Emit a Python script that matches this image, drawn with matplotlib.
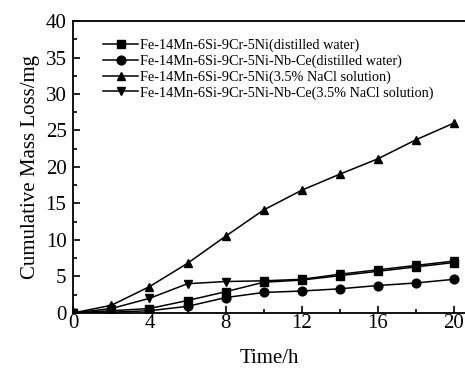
# Cumulative mass loss vs time for the Fe-Mn-Si-Cr-Ni alloys.
import matplotlib
matplotlib.use("Agg")
import matplotlib.pyplot as plt
from matplotlib.ticker import MultipleLocator

plt.rcParams['font.family'] = ['Liberation Serif', 'DejaVu Serif']

time_h = [0, 2, 4, 6, 8, 10, 12, 14, 16, 18, 20]

ni_water = [0, 0.3, 0.6, 1.7, 2.9, 4.2, 4.5, 5.1, 5.7, 6.3, 6.9]
nbce_water = [0, 0.1, 0.3, 0.9, 2.1, 2.8, 3.0, 3.3, 3.75, 4.1, 4.6]
ni_nacl = [0, 1.05, 3.6, 6.8, 10.5, 14.1, 16.8, 19.0, 21.1, 23.7, 26.0]
nbce_nacl = [0, 0.6, 2.0, 4.0, 4.3, 4.4, 4.6, 5.3, 5.9, 6.5, 7.1]

labels = [
    'Fe-14Mn-6Si-9Cr-5Ni(distilled water)',
    'Fe-14Mn-6Si-9Cr-5Ni-Nb-Ce(distilled water)',
    'Fe-14Mn-6Si-9Cr-5Ni(3.5% NaCl solution)',
    'Fe-14Mn-6Si-9Cr-5Ni-Nb-Ce(3.5% NaCl solution)',
]

fig = plt.figure(figsize=(4.65, 3.69), dpi=100)
ax = fig.add_axes([0.158, 0.152, 0.842, 0.791])

series = [ni_water, nbce_water, ni_nacl, nbce_nacl]
markers = ['s', 'o', '^', 'v']
for vals, m, lab in zip(series, markers, labels):
    ax.plot(time_h, vals, color='black', marker=m, markersize=6.3, linewidth=1.1, label=lab)

ax.set_xlim(0, 20.6)
ax.set_ylim(0, 40)
ax.xaxis.set_major_locator(MultipleLocator(4))
ax.xaxis.set_minor_locator(MultipleLocator(2))
ax.yaxis.set_major_locator(MultipleLocator(5))
ax.yaxis.set_minor_locator(MultipleLocator(2.5))
ax.tick_params(which='both', direction='in', labelsize=15, width=1.2)
ax.tick_params(which='major', length=5)
ax.tick_params(which='minor', length=3)
ax.tick_params(axis='y', pad=5)
ax.tick_params(axis='x', pad=1)
ax.spines['right'].set_visible(False)
for s in ['left', 'bottom', 'top']:
    ax.spines[s].set_linewidth(1.3)

ax.set_xlabel('Time/h', fontsize=15, labelpad=11)
ax.set_ylabel('Cumulative Mass Loss/mg', fontsize=15, labelpad=4)

ax.legend(loc='upper left', bbox_to_anchor=(0.06, 0.96), frameon=False, fontsize=10.3,
          handlelength=2.5, handletextpad=0.1, labelspacing=0.17, borderaxespad=0)

fig.savefig('out.png', dpi=100)
